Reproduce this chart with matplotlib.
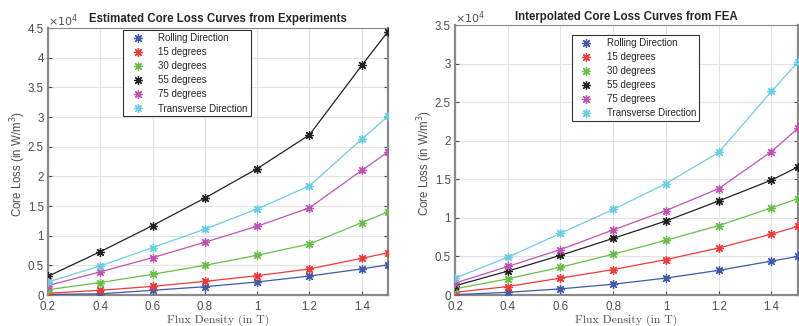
import matplotlib
matplotlib.use("Agg")
import matplotlib.pyplot as plt
from matplotlib.lines import Line2D

flux = [0.2, 0.4, 0.6, 0.8, 1.0, 1.2, 1.4, 1.5]
labels = ["Rolling Direction", "15 degrees", "30 degrees", "55 degrees",
          "75 degrees", "Transverse Direction"]
colors = ["#3f5ba9", "#f23a3a", "#6abf4b", "#222222", "#c053b3", "#6bcde3"]

# Core loss in units of 1e4 W/m^3
exp_rolling = [0.01, 0.02, 0.08, 0.14, 0.22, 0.32, 0.44, 0.51]
exp_15 = [0.03, 0.08, 0.146, 0.23, 0.326, 0.44, 0.62, 0.71]
exp_30 = [0.09, 0.21, 0.35, 0.50, 0.67, 0.86, 1.22, 1.40]
exp_55 = [0.315, 0.73, 1.17, 1.635, 2.13, 2.70, 3.87, 4.44]
exp_75 = [0.16, 0.39, 0.63, 0.89, 1.16, 1.47, 2.10, 2.41]
exp_trans = [0.22, 0.49, 0.80, 1.11, 1.45, 1.84, 2.63, 3.01]

fea_rolling = [0.005, 0.035, 0.08, 0.14, 0.22, 0.32, 0.44, 0.50]
fea_15 = [0.035, 0.11, 0.22, 0.33, 0.46, 0.61, 0.79, 0.89]
fea_30 = [0.08, 0.21, 0.36, 0.53, 0.71, 0.90, 1.13, 1.25]
fea_55 = [0.12, 0.31, 0.515, 0.735, 0.96, 1.22, 1.49, 1.66]
fea_75 = [0.155, 0.37, 0.59, 0.845, 1.095, 1.38, 1.86, 2.16]
fea_trans = [0.22, 0.49, 0.80, 1.11, 1.445, 1.85, 2.64, 3.02]

exp_series = [exp_rolling, exp_15, exp_30, exp_55, exp_75, exp_trans]
fea_series = [fea_rolling, fea_15, fea_30, fea_55, fea_75, fea_trans]

plt.rcParams["font.family"] = ["Liberation Sans", "DejaVu Sans"]
TICK_GRAY = "#4d4d4d"
SPINE_GRAY = "#8a8a8a"
ASTERISK = (8, 2, 0)

fig = plt.figure(figsize=(7.99, 3.26), dpi=100)
ax1 = fig.add_axes([0.060, 0.095, 0.4255, 0.819])
ax2 = fig.add_axes([0.5695, 0.095, 0.429, 0.828])


def draw(ax, series, ymax, yticks, title, legend_anchor):
    for vals, c, lab in zip(series, colors, labels):
        ax.plot(flux, vals, color=c, lw=0.9, marker=ASTERISK, ms=6.5,
                mec=c, mfc=c, mew=0.9, zorder=3)
    ax.set_xlim(0.2, 1.5)
    ax.set_ylim(0, ymax)
    ax.set_xticks([0.2, 0.4, 0.6, 0.8, 1.0, 1.2, 1.4])
    ax.set_xticklabels(["0.2", "0.4", "0.6", "0.8", "1", "1.2", "1.4"])
    ax.set_yticks(yticks)
    ax.set_yticklabels([("%g" % t) for t in yticks])
    ax.grid(True, color="#e3e3e3", lw=0.8, zorder=0)
    ax.set_axisbelow(True)
    ax.tick_params(direction="in", length=3, width=0.8, colors=TICK_GRAY,
                   labelsize=8.3, labelcolor=TICK_GRAY,
                   top=False, right=True)
    ax.tick_params(axis="x", pad=4)
    ax.tick_params(axis="y", pad=3)
    for side, sp in ax.spines.items():
        sp.set_color(SPINE_GRAY)
        sp.set_linewidth(1.6 if side in ("left", "bottom", "right") else 0.8)
    ax.set_title(title, fontsize=8.3, fontweight="bold", color="#262626", pad=4)
    ax.set_xlabel("Flux Density (in T)", family="cmr10", fontsize=8.5,
                  color=TICK_GRAY, va="center")
    ax.xaxis.set_label_coords(0.5, -0.093)
    ax.set_ylabel(r"Core Loss (in W/m$^3$)", fontsize=8.3, color=TICK_GRAY,
                  va="center")
    ax.yaxis.set_label_coords(-0.087, 0.49)
    ax.text(0.0, 0.998, r"$\times10^4$", transform=ax.transAxes,
            fontsize=8, color=TICK_GRAY, ha="left", va="bottom")
    handles = [Line2D([], [], ls="none", marker=ASTERISK, ms=6.5, color=c,
                      mec=c, mfc=c, mew=0.9) for c in colors]
    leg = ax.legend(handles, labels, loc="upper left",
                    bbox_to_anchor=legend_anchor, fontsize=7.0,
                    frameon=True, fancybox=False, edgecolor="#333333",
                    framealpha=1, borderpad=0.3, labelspacing=0.42,
                    handlelength=2.4, handletextpad=0.9, borderaxespad=0)
    leg.get_frame().set_linewidth(0.8)
    for t in leg.get_texts():
        t.set_color("#262626")


draw(ax1, exp_series, 4.5, [0, 0.5, 1, 1.5, 2, 2.5, 3, 3.5, 4, 4.5],
     "Estimated Core Loss Curves from Experiments", (0.222, 0.992))
draw(ax2, fea_series, 3.5, [0, 0.5, 1, 1.5, 2, 2.5, 3, 3.5],
     "Interpolated Core Loss Curves from FEA", (0.341, 0.963))

fig.savefig("out.png", dpi=100)
